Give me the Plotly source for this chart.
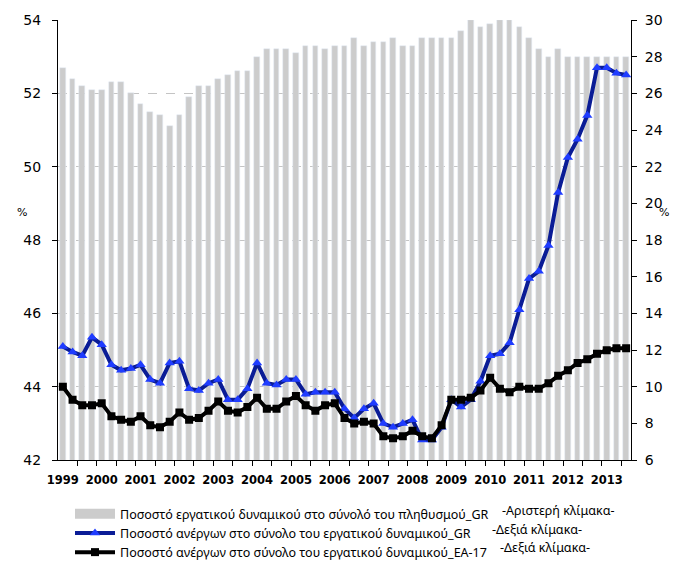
import plotly.graph_objects as go

# Quarterly data, 1999Q1 - 2013Q3
years = list(range(1999, 2014))

# Labour force as % of population, Greece (left scale)
labour_force_gr = [
    52.7, 52.4, 52.2, 52.1, 52.1, 52.3, 52.3, 52.0, 51.7, 51.5, 51.4, 51.1,
    51.4, 51.9, 52.2, 52.2, 52.4, 52.5, 52.6, 52.6, 53.0, 53.2, 53.2, 53.2,
    53.1, 53.3, 53.3, 53.2, 53.3, 53.3, 53.5, 53.3, 53.4, 53.4, 53.5, 53.3,
    53.3, 53.5, 53.5, 53.5, 53.5, 53.7, 54.0, 53.8, 53.9, 54.0, 54.0, 53.8,
    53.5, 53.2, 53.0, 53.2, 53.0, 53.0, 53.0, 53.0, 53.0, 53.0, 53.0,
]

# Unemployed as % of labour force, Greece (right scale)
unemployment_gr = [
    12.2, 11.9, 11.7, 12.7, 12.3, 11.2, 10.9, 11.0, 11.2, 10.4, 10.2, 11.3,
    11.4, 9.9, 9.8, 10.2, 10.4, 9.3, 9.3, 9.9, 11.3, 10.2, 10.1, 10.4,
    10.4, 9.6, 9.7, 9.7, 9.7, 8.8, 8.3, 8.8, 9.1, 8.0, 7.8, 8.0,
    8.2, 7.1, 7.1, 7.8, 9.3, 8.9, 9.3, 10.3, 11.7, 11.8, 12.4, 14.2,
    15.9, 16.3, 17.7, 20.6, 22.5, 23.5, 24.8, 27.4, 27.4, 27.1, 27.0,
]

# Unemployed as % of labour force, EA-17 (right scale)
unemployment_ea17 = [
    10.0, 9.3, 9.0, 9.0, 9.1, 8.4, 8.2, 8.1, 8.4, 7.9, 7.8, 8.1,
    8.6, 8.2, 8.3, 8.7, 9.2, 8.7, 8.6, 8.9, 9.4, 8.8, 8.8, 9.2,
    9.5, 9.0, 8.7, 9.0, 9.1, 8.3, 8.0, 8.1, 8.0, 7.3, 7.2, 7.3,
    7.6, 7.3, 7.2, 7.9, 9.3, 9.3, 9.4, 9.8, 10.5, 9.9, 9.7, 10.0,
    9.9, 9.9, 10.2, 10.6, 10.9, 11.3, 11.5, 11.8, 12.0, 12.1, 12.1,
]

names = [
    "Ποσοστό εργατικού δυναμικού στο σύνολό του πληθυσμού_GR",
    "Ποσοστό ανέργων στο σύνολο του εργατικού δυναμικού_GR",
    "Ποσοστό ανέργων στο σύνολο του εργατικού δυναμικού_EA-17",
]
scale_notes = ["-Αριστερή κλίμακα-", "-Δεξιά κλίμακα-", "-Δεξιά κλίμακα-"]

x = list(range(len(labour_force_gr)))
BAR_GREY = "#cccccc"
TXT = "DejaVu Sans"

fig = go.Figure()

fig.add_trace(go.Bar(
    x=x, y=labour_force_gr, marker_color=BAR_GREY, width=0.58,
    showlegend=False, hoverinfo="y",
))
# legend stand-in for the bars (wide grey swatch)
fig.add_trace(go.Scatter(
    x=[None], y=[None], mode="lines", name=names[0],
    line=dict(color=BAR_GREY, width=10),
))
fig.add_trace(go.Scatter(
    x=x, y=unemployment_gr, yaxis="y2", name=names[1], mode="lines+markers",
    line=dict(color="#0a1c96", width=4),
    marker=dict(symbol="triangle-up", size=9, color="#1f3cff"),
))
fig.add_trace(go.Scatter(
    x=x, y=unemployment_ea17, yaxis="y2", name=names[2], mode="lines+markers",
    line=dict(color="#000000", width=4),
    marker=dict(symbol="square", size=8, color="#000000"),
))

fig.update_layout(
    width=677, height=565,
    margin=dict(l=58, r=46, t=19, b=100),
    paper_bgcolor="white", plot_bgcolor="white",
    font=dict(family=TXT, size=14, color="#000000"),
    bargap=0,
    xaxis=dict(
        range=[-0.5, len(x) - 0.5],
        tickmode="array",
        tickvals=[4 * i for i in range(len(years))],
        ticktext=[str(y) for y in years],
        ticks="",
        tickfont=dict(family=TXT, size=11.5, weight="bold"),
        ticklabelstandoff=9,
        showline=True, linecolor="black", linewidth=1,
        showgrid=False, zeroline=False,
        minor=dict(
            tickmode="array",
            tickvals=[-0.5 + 2 * k for k in range(1, 30)],
            ticks="outside", ticklen=5, tickcolor="black", showgrid=False,
        ),
    ),
    yaxis=dict(
        range=[42, 54], dtick=2, tick0=42,
        ticks="outside", ticklen=5, tickcolor="black",
        showline=True, linecolor="black", linewidth=1,
        showgrid=True, gridcolor="#c4c4c4", griddash="dash", gridwidth=1,
        zeroline=False, ticklabelstandoff=8,
    ),
    yaxis2=dict(
        range=[6, 30], dtick=2, tick0=6, overlaying="y", side="right",
        ticks="outside", ticklen=5, tickcolor="black",
        showline=True, linecolor="black", linewidth=1,
        showgrid=False, zeroline=False, ticklabelstandoff=5,
    ),
    legend=dict(
        xref="paper", yref="container",
        x=(70 - 58) / 573, y=(565 - 499) / 565, xanchor="left", yanchor="top",
        font=dict(family="Noto Sans", size=12.5),
        itemwidth=40, tracegroupgap=0, bgcolor="rgba(0,0,0,0)",
    ),
)

# scale notes next to the legend entries (plot area: x 58..631, y 19..461 px)
def px_to_paper(px, py):
    return (px - 58) / 573, (461 - py) / 442

for note, (px, py) in zip(scale_notes, [(500, 512), (490, 531), (498, 549)]):
    xp, yp = px_to_paper(px, py)
    fig.add_annotation(
        text=note, xref="paper", yref="paper", x=xp, y=yp,
        xanchor="left", yanchor="middle", showarrow=False,
        font=dict(family="Noto Sans", size=12.5),
    )

# "%" units beside both axes
for px in (22, 664):
    xp, yp = px_to_paper(px, 212)
    fig.add_annotation(
        text="%", xref="paper", yref="paper", x=xp, y=yp,
        xanchor="center", showarrow=False, font=dict(family=TXT, size=11),
    )

# drop the default 8px page margin so the figure sits at the window corner
fig.write_html(
    "out.html",
    config={"displayModeBar": False},
    post_script="document.body.style.margin='0';",
)
